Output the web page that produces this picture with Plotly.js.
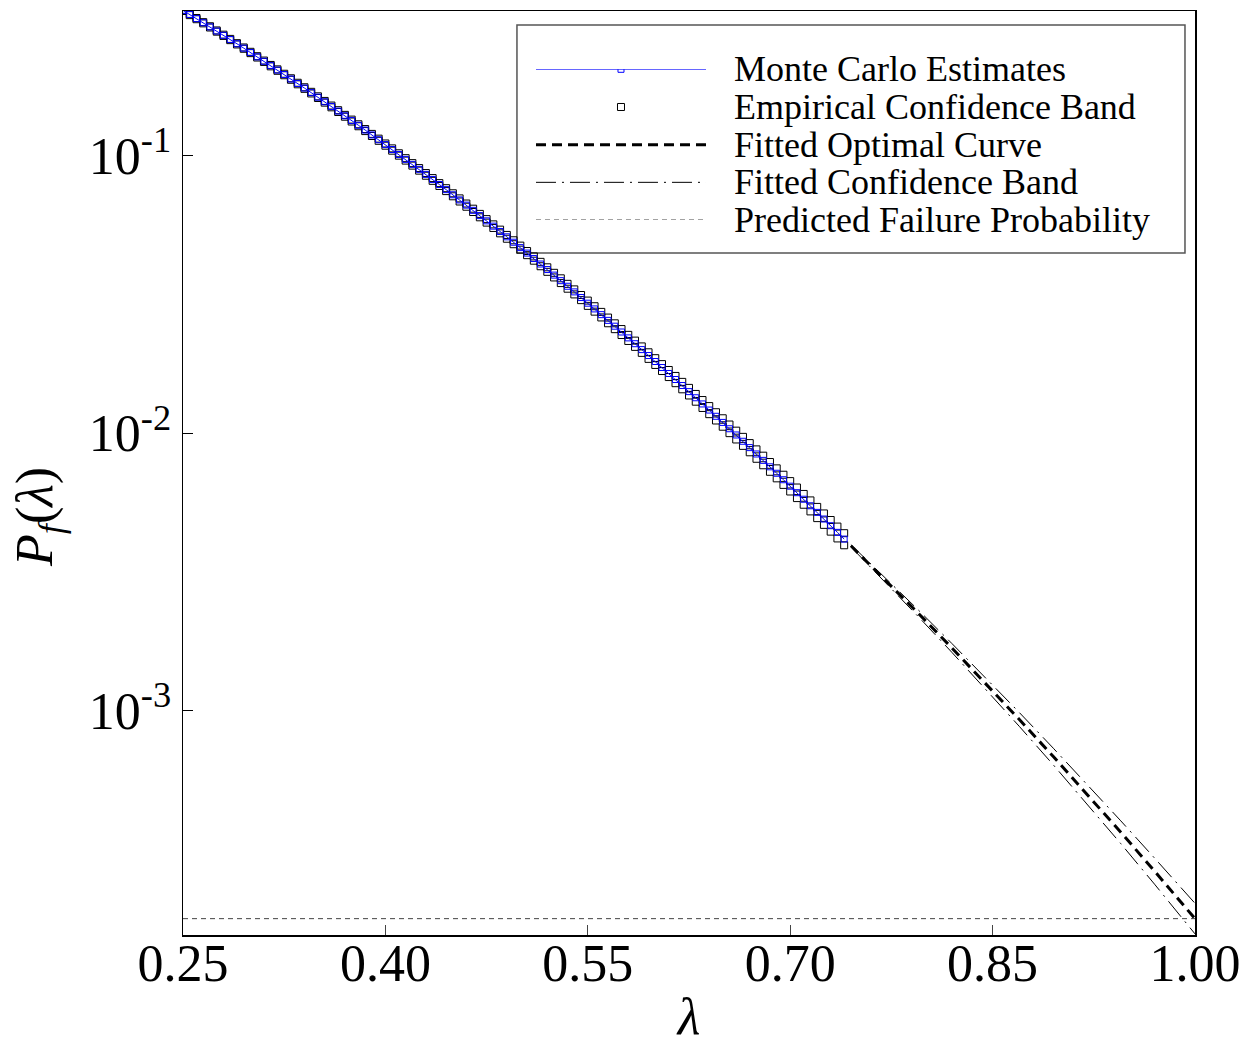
<!DOCTYPE html>
<html>
<head>
<meta charset="utf-8">
<script src="https://cdn.plot.ly/plotly-3.0.1.min.js"></script>
<style>html,body{margin:0;padding:0;background:#fff;}#chart{width:1250px;height:1045px;}</style>
</head>
<body>
<div id="chart"></div>
<script>
// ---- data ----
const mcLambda = [0.250,0.255,0.260,0.265,0.270,0.275,0.280,0.285,0.290,0.295,
  0.300,0.305,0.310,0.315,0.320,0.325,0.330,0.335,0.340,0.345,
  0.350,0.355,0.360,0.365,0.370,0.375,0.380,0.385,0.390,0.395,
  0.400,0.405,0.410,0.415,0.420,0.425,0.430,0.435,0.440,0.445,
  0.450,0.455,0.460,0.465,0.470,0.475,0.480,0.485,0.490,0.495,
  0.500,0.505,0.510,0.515,0.520,0.525,0.530,0.535,0.540,0.545,
  0.550,0.555,0.560,0.565,0.570,0.575,0.580,0.585,0.590,0.595,
  0.600,0.605,0.610,0.615,0.620,0.625,0.630,0.635,0.640,0.645,
  0.650,0.655,0.660,0.665,0.670,0.675,0.680,0.685,0.690,0.695,
  0.700,0.705,0.710,0.715,0.720,0.725,0.730,0.735,0.740];
const mcEstimates = [0.3327,0.3216,0.3109,0.3004,0.2903,0.2804,0.2707,0.2614,0.2523,0.2434,
  0.2348,0.2264,0.2183,0.2105,0.2029,0.1956,0.1884,0.1815,0.1748,0.1683,
  0.1621,0.1560,0.1501,0.1444,0.1389,0.1335,0.1284,0.1234,0.1185,0.1139,
  0.1094,0.1050,0.1008,0.09677,0.09286,0.08909,0.08545,0.08194,0.07856,0.07530,
  0.07216,0.06914,0.06623,0.06342,0.06072,0.05813,0.05563,0.05323,0.05092,0.04869,
  0.04656,0.04450,0.04253,0.04064,0.03882,0.03707,0.03540,0.03380,0.03226,0.03078,
  0.02937,0.02801,0.02671,0.02547,0.02427,0.02313,0.02203,0.02099,0.01999,0.01903,
  0.01811,0.01723,0.01640,0.01560,0.01484,0.01411,0.01341,0.01274,0.01211,0.01150,
  0.01093,0.01037,0.009849,0.009348,0.008870,0.008413,0.007979,0.007565,0.007171,0.006797,
  0.006442,0.006104,0.005782,0.005476,0.005184,0.004907,0.004643,0.004393,0.004155];
// empirical confidence band half-width, percent of the estimate
const empBandPct = [0.50,0.50,0.50,0.50,0.51,0.51,0.52,0.52,0.53,0.54,
  0.55,0.56,0.57,0.58,0.59,0.61,0.62,0.64,0.65,0.67,
  0.69,0.71,0.73,0.75,0.77,0.79,0.82,0.84,0.87,0.89,
  0.92,0.95,0.98,1.01,1.04,1.07,1.11,1.14,1.18,1.21,
  1.25,1.29,1.33,1.37,1.41,1.45,1.49,1.54,1.58,1.63,
  1.67,1.72,1.77,1.82,1.87,1.92,1.97,2.02,2.08,2.13,
  2.19,2.24,2.30,2.36,2.42,2.48,2.54,2.60,2.67,2.73,
  2.80,2.86,2.93,3.00,3.07,3.14,3.21,3.28,3.35,3.42,
  3.50,3.57,3.65,3.73,3.81,3.89,3.97,4.05,4.13,4.21,
  4.30,4.38,4.47,4.55,4.64,4.73,4.82,4.91,5.00];
const fitLambda = [0.745,0.770,0.795,0.820,0.845,0.870,0.895,0.920,0.945,0.970,1.000];
const fitOptimal = [0.003930,0.002979,0.002244,0.001682,0.001254,0.0009292,0.0006846,0.0005018,0.0003656,0.0002649,0.0001786];
const fitUpper = [0.003966,0.003034,0.002307,0.001745,0.001313,0.0009842,0.0007337,0.0005437,0.0004018,0.0002952,0.0002028];
const fitLower = [0.003894,0.002924,0.002183,0.001621,0.001197,0.0008772,0.0006390,0.0004629,0.0003327,0.0002377,0.0001574];
const predLambda = [0.25, 1.00];
const predictedPf = 0.0001786;
const xTickVals = [0.25,0.40,0.55,0.70,0.85,1.00];
const xTickText = ['0.25','0.40','0.55','0.70','0.85','1.00'];
const yTickVals = [0.1,0.01,0.001];
const yTickText = ['10<sup>-1</sup>','10<sup>-2</sup>','10<sup>-3</sup>'];
const legendLabels = ['Monte Carlo Estimates','Empirical Confidence Band','Fitted Optimal Curve','Fitted Confidence Band','Predicted Failure Probability'];
const xTitle = '<i>λ</i>';
const yTitle = '<i>P<sub>f</sub></i>(<i>λ</i>)';

// ---- styles ----
const FONT = 'Liberation Serif, Times New Roman, serif';
const mcStyle = {line:{color:'#0000ff',width:1}, marker:{symbol:'square-open',size:6,color:'#0000ff',line:{width:1}}};
const empStyle = {marker:{symbol:'square-open',size:7,color:'#000',line:{width:1}}};
const fitStyle = {color:'#000',width:3,dash:'10px,6px'};
const bandStyle = {color:'#000',width:1,dash:'20px,6px,2px,6px'};
const predStyle = {color:'#444',width:1,dash:'5px,4px'};

const empUpper = mcEstimates.map((v,i)=>v*(1+empBandPct[i]/100));
const empLower = mcEstimates.map((v,i)=>v*(1-empBandPct[i]/100));

const traces = [
  {x:predLambda, y:predLambda.map(()=>predictedPf), mode:'lines', line:predStyle, showlegend:false, name:legendLabels[4]},
  {x:fitLambda, y:fitUpper, mode:'lines', line:bandStyle, showlegend:false, name:legendLabels[3]},
  {x:fitLambda, y:fitLower, mode:'lines', line:bandStyle, showlegend:false, name:legendLabels[3]},
  {x:fitLambda, y:fitOptimal, mode:'lines', line:fitStyle, showlegend:false, name:legendLabels[2]},
  {x:mcLambda, y:empUpper, mode:'markers', marker:empStyle.marker, showlegend:false, name:legendLabels[1]},
  {x:mcLambda, y:empLower, mode:'markers', marker:empStyle.marker, showlegend:false, name:legendLabels[1]},
  {x:mcLambda, y:mcEstimates, mode:'lines+markers', line:mcStyle.line, marker:mcStyle.marker, showlegend:false, name:legendLabels[0]},
  // legend samples (drawn on a small hidden axis inside the legend box)
  {x:[0,1], y:[0,0], xaxis:'x2', yaxis:'y2', mode:'lines', line:mcStyle.line, showlegend:false, hoverinfo:'skip'},
  {x:[0.5], y:[0], xaxis:'x2', yaxis:'y2', mode:'markers', marker:mcStyle.marker, showlegend:false, hoverinfo:'skip'},
  {x:[0.5], y:[1], xaxis:'x2', yaxis:'y2', mode:'markers', marker:empStyle.marker, showlegend:false, hoverinfo:'skip'},
  {x:[0,1], y:[2,2], xaxis:'x2', yaxis:'y2', mode:'lines', line:fitStyle, showlegend:false, hoverinfo:'skip'},
  {x:[0,1], y:[3,3], xaxis:'x2', yaxis:'y2', mode:'lines', line:bandStyle, showlegend:false, hoverinfo:'skip'},
  {x:[0,1], y:[4,4], xaxis:'x2', yaxis:'y2', mode:'lines', line:predStyle, showlegend:false, hoverinfo:'skip'}
];

const annotations = legendLabels.map((t,i)=>({
  text:t, xref:'paper', x:0.5425, yref:'y2', y:i, xanchor:'left', yanchor:'middle',
  showarrow:false, font:{family:FONT,size:36,color:'#000'}
}));
// y-axis title, placed where the reference shows it
annotations.push({
  text:yTitle, xref:'paper', yref:'paper', x:-0.1423, y:0.4524, xanchor:'center', yanchor:'middle',
  textangle:-90, showarrow:false, font:{family:FONT,size:52,color:'#000'}
});

const layout = {
  width:1250, height:1045,
  margin:{l:183, r:55, t:11, b:110},
  paper_bgcolor:'#fff', plot_bgcolor:'#fff',
  font:{family:FONT, color:'#000'},
  showlegend:false,
  xaxis:{
    range:[0.25,1.0], tickmode:'array', tickvals:xTickVals, ticktext:xTickText,
    ticks:'inside', ticklen:10, tickcolor:'#444', tickwidth:1,
    ticklabelstandoff:-18,
    showline:true, mirror:true, linecolor:'#000', linewidth:1.5,
    showgrid:false, zeroline:false,
    tickfont:{family:FONT,size:52,color:'#000'},
    title:{text:xTitle, font:{family:FONT,size:52,color:'#000'}, standoff:22}
  },
  yaxis:{
    type:'log', range:[-3.807,-0.480], tickmode:'array', tickvals:yTickVals, ticktext:yTickText,
    ticks:'inside', ticklen:10, tickcolor:'#000', tickwidth:1,
    showline:true, mirror:true, linecolor:'#000', linewidth:1.5,
    showgrid:false, zeroline:false,
    tickfont:{family:FONT,size:52,color:'#000'}
  },
  xaxis2:{domain:[0.3488,0.5168], range:[0,1], visible:false, fixedrange:true, anchor:'y2'},
  yaxis2:{domain:[0.7738,0.9369], range:[4,0], visible:false, fixedrange:true, anchor:'x2'},
  shapes:[{type:'rect', xref:'paper', yref:'paper', x0:0.3300, x1:0.9901, y0:0.7381, y1:0.9848,
    line:{color:'#555',width:1.5}, fillcolor:'rgba(0,0,0,0)', layer:'below'}],
  annotations:annotations
};

Plotly.newPlot('chart', traces, layout, {displayModeBar:false, staticPlot:true});
</script>
</body>
</html>
